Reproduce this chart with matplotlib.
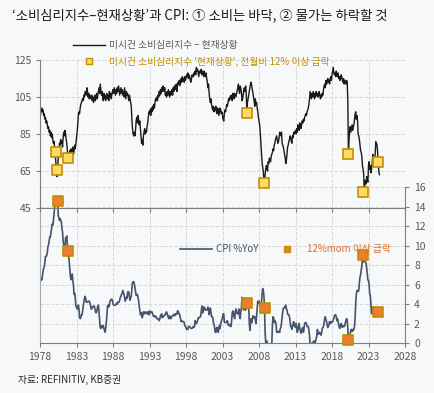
import matplotlib
matplotlib.use('Agg')
import matplotlib.pyplot as plt
from matplotlib.lines import Line2D
import numpy as np

plt.rcParams['font.family'] = ['Noto Sans CJK KR', 'DejaVu Sans']

# 미시건 소비심리지수 - 현재상황, monthly from Jan 1978
umich = [
    93, 96, 98, 99, 97, 98, 95, 96, 93, 94, 91, 92,      # 1978
    90, 88, 89, 86, 87, 84, 86, 83, 85, 82, 80, 81,      # 1979
    78, 74, 70, 64, 62, 66, 72, 76, 80, 79, 82, 80,      # 1980
    81, 78, 83, 86, 84, 87, 85, 82, 80, 76, 73, 75,      # 1981
    72, 76, 74, 77, 73, 75, 78, 74, 76, 79, 77, 80,      # 1982
    83, 86, 90, 95, 97, 96, 99, 101, 102, 103, 104, 103,  # 1983
    106, 105, 108, 107, 106, 110, 108, 105, 107, 104, 106, 105,
    104, 106, 103, 105, 102, 104, 106, 103, 105, 107, 104, 106,
    108, 110, 107, 112, 109, 106, 108, 105, 103, 107, 104, 106,
    103, 105, 107, 104, 106, 103, 108, 105, 107, 104, 106, 108,
    109, 107, 110, 108, 106, 109, 107, 110, 108, 111, 109, 106,
    108, 110, 107, 109, 106, 108, 105, 110, 107, 104, 108, 106,
    107, 105, 103, 106, 104, 102, 100, 93, 88, 85, 84, 86,   # 1990
    84, 87, 92, 94, 91, 95, 93, 90, 92, 88, 84, 80,
    82, 79, 84, 86, 88, 85, 87, 86, 89, 91, 94, 97,
    96, 98, 95, 99, 97, 100, 98, 101, 99, 102, 104, 103,
    105, 103, 106, 105, 108, 106, 109, 107, 110, 108, 111, 109,
    108, 110, 106, 107, 105, 108, 106, 109, 107, 105, 108, 106,
    107, 109, 106, 110, 108, 111, 109, 110, 112, 108, 111, 113,
    112, 114, 111, 113, 115, 113, 116, 114, 115, 113, 116, 114,
    115, 117, 116, 118, 115, 117, 116, 114, 113, 115, 117, 116,
    116, 118, 117, 119, 117, 121, 119, 120, 118, 116, 119, 118,
    118, 120, 117, 119, 118, 116, 119, 117, 116, 118, 115, 113,  # 2000
    110, 112, 107, 104, 102, 104, 101, 99, 98, 100, 97, 99,
    98, 100, 97, 96, 99, 98, 95, 97, 99, 98, 96, 97,
    95, 93, 92, 96, 98, 97, 99, 101, 100, 102, 104, 103,
    105, 104, 106, 105, 103, 107, 106, 104, 107, 106, 105, 107,
    108, 110, 112, 109, 107, 111, 110, 108, 103, 104, 106, 109,
    110, 108, 111, 107, 97, 102, 104, 106, 108, 110, 112, 113,
    111, 109, 107, 105, 103, 100, 104, 101, 102, 99, 97, 94,
    92, 90, 86, 80, 75, 70, 67, 65, 60, 58, 63, 66,      # 2008
    68, 67, 65, 70, 69, 72, 71, 70, 73, 74, 75, 77,
    76, 79, 80, 82, 83, 84, 82, 80, 81, 83, 86, 85,      # 2010
    84, 86, 80, 79, 78, 76, 74, 72, 69, 71, 74, 78,
    79, 81, 82, 84, 83, 81, 80, 84, 83, 86, 85, 86,
    87, 85, 88, 86, 90, 89, 87, 91, 90, 88, 90, 92,
    91, 93, 92, 94, 95, 96, 95, 97, 98, 99, 101, 104,
    108, 106, 104, 107, 105, 108, 106, 104, 107, 105, 108, 106,
    107, 105, 106, 108, 106, 104, 106, 105, 107, 106, 109, 111,
    112, 110, 114, 112, 113, 115, 113, 114, 112, 115, 116, 114,
    117, 119, 121, 118, 117, 118, 116, 119, 117, 116, 118, 115,
    116, 114, 115, 117, 116, 114, 113, 115, 112, 114, 113, 112,
    114, 113, 103, 74, 82, 87, 89, 86, 88, 90, 87, 89,   # 2020
    90, 93, 96, 97, 93, 95, 92, 85, 84, 82, 79, 76,
    75, 73, 68, 66, 64, 54, 58, 60, 58, 62, 60, 59,
    68, 70, 66, 68, 64, 66, 69, 74, 71, 70, 68, 74,
    81, 80, 79, 75, 68, 65, 63,                          # 2024
]

# CPI %YoY, monthly from Jan 1978
cpi = [
    6.8, 6.4, 6.6, 6.5, 6.9, 7.4, 7.7, 7.8, 8.3, 8.9, 8.9, 9.0,
    9.3, 9.9, 10.1, 10.5, 10.9, 10.9, 11.3, 11.8, 12.2, 12.1, 12.6, 13.3,
    13.9, 14.2, 14.8, 14.7, 14.4, 14.4, 13.1, 12.9, 12.6, 12.8, 12.6, 12.5,
    11.8, 11.4, 10.5, 10.0, 9.8, 9.6, 10.8, 10.8, 11.0, 10.1, 9.6, 8.9,
    8.4, 7.6, 6.8, 6.5, 6.7, 7.1, 6.4, 5.9, 5.0, 5.1, 4.6, 3.8,
    3.7, 3.5, 3.6, 3.9, 3.5, 2.6, 2.5, 2.6, 2.9, 2.9, 3.3, 3.8,
    4.2, 4.6, 4.8, 4.6, 4.2, 4.2, 4.2, 4.3, 4.3, 4.3, 4.1, 3.9,
    3.5, 3.5, 3.7, 3.7, 3.8, 3.8, 3.6, 3.3, 3.1, 3.2, 3.5, 3.8,
    3.9, 3.1, 2.2, 1.6, 1.5, 1.8, 1.6, 1.6, 1.8, 1.5, 1.3, 1.1,
    1.5, 2.1, 3.0, 3.8, 3.9, 3.7, 3.9, 4.3, 4.4, 4.5, 4.5, 4.4,
    4.0, 3.9, 3.9, 3.9, 3.9, 4.0, 4.1, 4.0, 4.2, 4.2, 4.2, 4.4,
    4.7, 4.8, 5.0, 5.1, 5.4, 5.2, 5.0, 4.7, 4.3, 4.5, 4.7, 4.6,
    5.2, 5.3, 5.2, 4.7, 4.4, 4.7, 4.8, 5.6, 6.2, 6.3, 6.3, 6.1,
    5.7, 5.3, 4.9, 4.9, 5.0, 4.7, 4.4, 3.8, 3.4, 2.9, 3.0, 3.1,
    2.6, 2.8, 3.2, 3.2, 3.0, 3.1, 3.2, 3.1, 3.0, 3.2, 3.0, 2.9,
    3.3, 3.2, 3.1, 3.2, 3.2, 3.0, 2.8, 2.8, 2.7, 2.8, 2.7, 2.7,
    2.5, 2.5, 2.5, 2.4, 2.3, 2.5, 2.8, 2.9, 3.0, 2.6, 2.7, 2.7,
    2.8, 2.9, 2.9, 3.1, 3.2, 3.0, 2.8, 2.6, 2.5, 2.8, 2.6, 2.5,
    2.7, 2.7, 2.8, 2.9, 2.9, 2.8, 3.0, 2.9, 3.0, 3.0, 3.3, 3.3,
    3.0, 3.0, 2.8, 2.5, 2.2, 2.3, 2.2, 2.2, 2.2, 2.1, 1.8, 1.7,
    1.6, 1.4, 1.4, 1.4, 1.7, 1.7, 1.7, 1.6, 1.5, 1.5, 1.5, 1.6,
    1.7, 1.6, 1.7, 2.3, 2.1, 2.0, 2.1, 2.3, 2.6, 2.6, 2.6, 2.7,
    2.7, 3.2, 3.8, 3.1, 3.2, 3.7, 3.7, 3.4, 3.5, 3.4, 3.4, 3.4,
    3.7, 3.5, 2.9, 3.3, 3.6, 3.2, 2.7, 2.7, 2.6, 2.1, 1.9, 1.6,
    1.1, 1.1, 1.5, 1.6, 1.2, 1.1, 1.5, 1.8, 1.5, 2.0, 2.2, 2.4,
    2.6, 3.0, 3.0, 2.2, 2.1, 2.1, 2.1, 2.2, 2.3, 2.0, 1.8, 1.9,
    1.9, 1.7, 1.7, 2.3, 3.1, 3.3, 3.0, 2.7, 2.5, 3.2, 3.5, 3.3,
    3.0, 3.0, 3.1, 3.5, 2.8, 2.5, 3.2, 3.6, 4.7, 4.3, 3.5, 3.4,
    4.0, 3.6, 3.4, 3.5, 4.2, 4.3, 4.1, 3.8, 2.1, 1.3, 2.0, 2.5,
    2.1, 2.4, 2.8, 2.6, 2.7, 2.7, 2.4, 2.0, 2.8, 3.5, 4.3, 4.1,
    4.3, 4.0, 4.0, 3.9, 4.2, 5.0, 5.6, 5.4, 4.9, 3.7, 1.1, 0.1,
    0.0, 0.2, -0.4, -0.7, -1.3, -1.4, -2.1, -1.5, -1.3, -0.2, 1.8, 2.7,
    2.6, 2.1, 2.3, 2.2, 2.0, 1.1, 1.2, 1.1, 1.1, 1.2, 1.1, 1.5,
    1.6, 2.1, 2.7, 3.2, 3.6, 3.6, 3.6, 3.8, 3.9, 3.5, 3.4, 3.0,
    2.9, 2.9, 2.7, 2.3, 1.7, 1.7, 1.4, 1.7, 2.0, 2.2, 1.8, 1.7,
    1.6, 2.0, 1.5, 1.1, 1.4, 1.8, 2.0, 1.5, 1.2, 1.0, 1.2, 1.5,
    1.6, 1.1, 1.5, 2.0, 2.1, 2.1, 2.0, 1.7, 1.7, 1.7, 1.3, 0.8,
    -0.1, 0.0, -0.1, -0.2, 0.0, 0.1, 0.2, 0.2, 0.0, 0.2, 0.5, 0.7,
    1.4, 1.0, 0.9, 1.1, 1.0, 1.0, 0.8, 1.1, 1.5, 1.6, 1.7, 2.1,
    2.5, 2.7, 2.4, 2.2, 1.9, 1.6, 1.7, 1.9, 2.2, 2.0, 2.2, 2.1,
    2.1, 2.2, 2.4, 2.5, 2.8, 2.9, 2.9, 2.7, 2.3, 2.5, 2.2, 1.9,
    1.6, 1.5, 1.9, 2.0, 1.8, 1.6, 1.8, 1.7, 1.7, 1.8, 2.1, 2.3,
    2.5, 2.3, 1.5, 0.3, 0.1, 0.6, 1.0, 1.3, 1.4, 1.2, 1.2, 1.4,
    1.4, 1.7, 2.6, 4.2, 5.0, 5.4, 5.4, 5.3, 5.4, 6.2, 6.8, 7.0,
    7.5, 7.9, 8.5, 8.3, 8.6, 9.1, 8.5, 8.3, 8.2, 7.7, 7.1, 6.5,
    6.4, 6.0, 5.0, 4.9, 4.0, 3.0, 3.2, 3.7, 3.7, 3.2, 3.1, 3.4,
    3.1, 3.2, 3.5, 3.4, 3.3, 3.0, 2.9,
]

# 전월비 12% 이상 급락 시점
drop_dates = [1980.2, 1980.3, 1981.9, 2006.3, 2008.7, 2020.2, 2022.3, 2024.3]
drop_umich = [75.4, 65.7, 72.2, 96.2, 58.3, 74.3, 53.6, 69.7]
cpi_dates = [1980.4, 1981.9, 2006.4, 2008.8, 2020.2, 2022.3, 2024.3]
cpi_at_drop = [14.6, 9.5, 4.1, 3.6, 0.3, 9.0, 3.2]

years = 1978 + np.arange(len(umich)) / 12.0
years_cpi = 1978 + np.arange(len(cpi)) / 12.0

bg = '#f7f8fa'
tick_c = '#595959'
grid_c = '#d9d9d9'
navy = '#44546a'
gold = '#bf9000'

fig = plt.figure(figsize=(4.34, 3.93), dpi=100, facecolor=bg)
ax_lo = fig.add_axes([0.0922, 0.1272, 0.841, 0.396])
ax_up = fig.add_axes([0.0922, 0.4707, 0.841, 0.3766])
for a in (ax_up, ax_lo):
    a.set_facecolor('none')
    a.set_xlim(1978, 2028)
    a.set_xticks(range(1978, 2029, 5))
    a.grid(True, color=grid_c, linestyle='--', linewidth=0.7)
    a.set_axisbelow(True)
    for s in a.spines.values():
        s.set_color('#7f7f7f')
        s.set_linewidth(0.8)
    a.tick_params(colors='#7f7f7f', labelcolor=tick_c, labelsize=7.5, length=3, width=0.8)

# upper: consumer sentiment
ax_up.plot(years, umich, color='#1a1a1a', lw=1.0)
ax_up.scatter(drop_dates, drop_umich, marker='s', s=55, c='#ffd966', edgecolors=gold, linewidths=1.2, zorder=5)
ax_up.set_ylim(45, 125)
ax_up.set_yticks([45, 65, 85, 105, 125])
ax_up.spines['top'].set_visible(False)
ax_up.spines['right'].set_visible(False)
ax_up.tick_params(axis='x', labelbottom=False)

# lower: CPI
ax_lo.plot(years_cpi, cpi, color=navy, lw=1.2)
ax_lo.scatter(cpi_dates, cpi_at_drop, marker='s', s=55, c='#ed7d31', edgecolors=gold, linewidths=1.2, zorder=5, clip_on=False)
ax_lo.set_ylim(0, 16)
ax_lo.set_yticks(range(0, 17, 2))
ax_lo.yaxis.tick_right()
ax_lo.spines['top'].set_visible(False)
ax_lo.spines['left'].set_color('#a6a6a6')

# legends
h1 = [Line2D([], [], color='#1a1a1a', lw=1.0),
      Line2D([], [], ls='none', marker='s', ms=4.5, mfc='#ffd966', mec=gold, mew=1.0)]
fig.legend(h1, ['미시건 소비심리지수 – 현재상황', "미시건 소비심리지수 '현재상황', 전월비 12% 이상 급락"],
           loc='upper left', bbox_to_anchor=(0.168, 0.897), frameon=False, fontsize=7,
           handlelength=3.3, handletextpad=0.4, labelspacing=0.62,
           labelcolor=['#595959', gold], borderaxespad=0, borderpad=0)
h2 = [Line2D([], [], color=navy, lw=1.2),
      Line2D([], [], ls='none', marker='s', ms=4.5, mfc='#ed7d31', mec=gold, mew=1.0)]
fig.legend(h2, ['CPI %YoY', '12%mom 이상 급락'], loc='upper left', bbox_to_anchor=(0.415, 0.378),
           ncol=2, frameon=False, fontsize=7, handlelength=3.3, handletextpad=0.4, columnspacing=1.3,
           labelcolor=[navy, '#e06c2a'], borderaxespad=0, borderpad=0)

fig.text(0.028, 0.962, '‘소비심리지수–현재상황’과 CPI: ① 소비는 바닥, ② 물가는 하락할 것',
         fontsize=9.6, color='#1a1a1a', va='center', ha='left')
fig.text(0.041, 0.033, '자료: REFINITIV, KB증권', fontsize=7, color='#262626', va='center', ha='left')

fig.savefig('out.png', dpi=100, facecolor=bg)
